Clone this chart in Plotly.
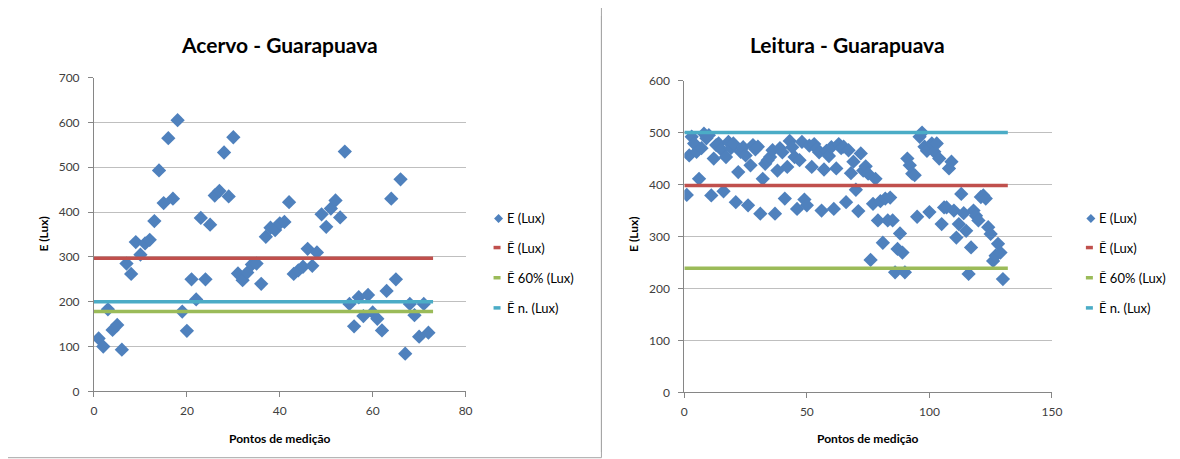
import plotly.graph_objects as go

# ---- dados: Acervo - Guarapuava ----
acervo_x = list(range(1, 73))
acervo_e = [118, 100, 183, 137, 148, 93, 285, 262, 333, 305,
            330, 338, 380, 493, 420, 565, 430, 605, 178, 135,
            250, 205, 387, 250, 372, 437, 447, 533, 435, 567,
            263, 248, 265, 283, 285, 240, 345, 365, 360, 375,
            378, 422, 262, 270, 278, 318, 280, 310, 395, 367,
            408, 426, 388, 535, 195, 145, 210, 168, 215, 176,
            162, 136, 224, 430, 250, 473, 84, 195, 170, 122,
            195, 131]
acervo_lim_x = [0, 73]
acervo_media = 297
acervo_60 = 178
acervo_norma = 200

# ---- dados: Leitura - Guarapuava ----
leitura_x = list(range(1, 131))
leitura_e = [380, 456, 492, 479, 463, 411, 470, 498, 489, 495,
             379, 450, 476, 479, 468, 387, 453, 482, 470, 479,
             366, 424, 463, 472, 456, 360, 437, 476, 468, 473,
             344, 411, 440, 447, 453, 466, 344, 427, 470, 462,
             373, 434, 484, 472, 453, 353, 447, 482, 371, 360,
             475, 434, 478, 469, 462, 350, 429, 465, 455, 472,
             353, 431, 478, 470, 473, 366, 466, 422, 444, 390,
             349, 460, 427, 435, 421, 255, 363, 411, 331, 368,
             288, 373, 331, 375, 331, 231, 276, 306, 269, 231,
             450, 437, 421, 418, 338, 492, 500, 473, 465, 347,
             479, 463, 479, 450, 324, 356, 356, 431, 444, 350,
             298, 324, 382, 345, 311, 228, 279, 350, 340, 331,
             376, 379, 373, 318, 305, 253, 263, 286, 269, 218]
leitura_lim_x = [0, 132]
leitura_media = 398
leitura_60 = 239
leitura_norma = 500

# a página html tem margem no body, então o gráfico é descontado disso
OFF = 8
W, H = 1180 - OFF, 459 - OFF
AZUL = "#4F81BD"
VERMELHO = "#C0504D"
VERDE = "#9BBB59"
CIANO = "#4BACC6"
FONTE = "Lato"


# posições em pixels da imagem final -> fração do papel (com ajuste medido)
def px(x):
    return ((x - 2) / 0.99 - OFF) / W


def py(y):
    return 1 - ((y - 9) / 0.9615 - OFF) / H


fig = go.Figure()

# gráfico 1
fig.add_trace(go.Scatter(x=acervo_x, y=acervo_e, mode="markers",
                         marker=dict(symbol="diamond", size=11, color=AZUL),
                         xaxis="x", yaxis="y", showlegend=False))
for val, cor in [(acervo_media, VERMELHO), (acervo_60, VERDE), (acervo_norma, CIANO)]:
    fig.add_trace(go.Scatter(x=acervo_lim_x, y=[val, val], mode="lines",
                             line=dict(color=cor, width=3.5),
                             xaxis="x", yaxis="y", showlegend=False))

# gráfico 2
fig.add_trace(go.Scatter(x=leitura_x, y=leitura_e, mode="markers",
                         marker=dict(symbol="diamond", size=11, color=AZUL),
                         xaxis="x2", yaxis="y2", showlegend=False))
for val, cor in [(leitura_media, VERMELHO), (leitura_60, VERDE), (leitura_norma, CIANO)]:
    fig.add_trace(go.Scatter(x=leitura_lim_x, y=[val, val], mode="lines",
                             line=dict(color=cor, width=3.5),
                             xaxis="x2", yaxis="y2", showlegend=False))

eixo = dict(showline=True, linecolor="#868686", linewidth=1,
            ticks="outside", ticklen=5, tickcolor="#868686",
            tickfont=dict(family=FONTE, size=12, color="#404040"),
            zeroline=False)

fig.update_layout(
    width=W, height=H,
    margin=dict(l=0, r=0, t=0, b=0),
    paper_bgcolor="white", plot_bgcolor="white",
    xaxis=dict(domain=[px(93), px(465)], range=[0, 80], dtick=20,
               showgrid=False, anchor="y", ticklabelstandoff=3, **eixo),
    yaxis=dict(domain=[py(390), py(78)], range=[0, 700], dtick=100,
               showgrid=True, gridcolor="#BFBFBF", anchor="x",
               ticklabelstandoff=6, **eixo),
    xaxis2=dict(domain=[px(684), px(1052)], range=[0, 150], dtick=50,
                showgrid=False, anchor="y2", ticklabelstandoff=3, **eixo),
    yaxis2=dict(domain=[py(391), py(81)], range=[0, 600], dtick=100,
                showgrid=True, gridcolor="#BFBFBF", anchor="x2",
                ticklabelstandoff=6, **eixo),
)

# títulos e rótulos dos eixos
textos = [
    ("Acervo - Guarapuava", 279, 45, 21, 0),
    ("Leitura - Guarapuava", 847, 45, 21, 0),
    ("Pontos de medição", 279, 437, 12, 0),
    ("Pontos de medição", 868, 437, 12, 0),
    ("E (Lux)", 42, 234, 12, -90),
    ("E (Lux)", 633, 234, 12, -90),
]
for txt, x, y, tam, ang in textos:
    fig.add_annotation(text=f"<b>{txt}</b>", x=px(x), y=py(y),
                       xref="paper", yref="paper", showarrow=False,
                       textangle=ang, xanchor="center", yanchor="middle",
                       font=dict(family=FONTE, size=tam, color="black"))

# legendas (desenhadas à mão para ficarem curtas como no Excel)
rotulos = ["E (Lux)", "Ē (Lux)", "Ē 60% (Lux)", "Ē n. (Lux)"]
cores = [AZUL, VERMELHO, VERDE, CIANO]
linhas_y = [218, 247, 277, 307]
for x_simb, x_txt in [(498, 504), (1091, 1097)]:
    for i, (rot, cor, yy) in enumerate(zip(rotulos, cores, linhas_y)):
        if i == 0:
            fig.add_shape(type="path", xref="paper", yref="paper",
                          path=(f"M {px(x_simb)} {py(yy - 4.5)} L {px(x_simb + 4.5)} {py(yy)} "
                                f"L {px(x_simb)} {py(yy + 4.5)} L {px(x_simb - 4.5)} {py(yy)} Z"),
                          fillcolor=cor, line=dict(width=0))
        else:
            fig.add_shape(type="line", xref="paper", yref="paper",
                          x0=px(x_simb - 5), x1=px(x_simb + 2), y0=py(yy), y1=py(yy),
                          line=dict(color=cor, width=3.5))
        fig.add_annotation(text=rot, x=px(x_txt), y=py(yy), xref="paper", yref="paper",
                           showarrow=False, xanchor="left", yanchor="middle",
                           font=dict(family=FONTE, size=13, color="black"))

# moldura dos gráficos
fig.add_shape(type="rect", xref="paper", yref="paper",
              x0=px(2), x1=px(601), y0=py(456), y1=py(1),
              line=dict(color="#A6A6A6", width=1))
fig.add_shape(type="line", xref="paper", yref="paper",
              x0=px(601), x1=px(601), y0=0, y1=1,
              line=dict(color="#A6A6A6", width=1))

fig.write_html("out.html")
